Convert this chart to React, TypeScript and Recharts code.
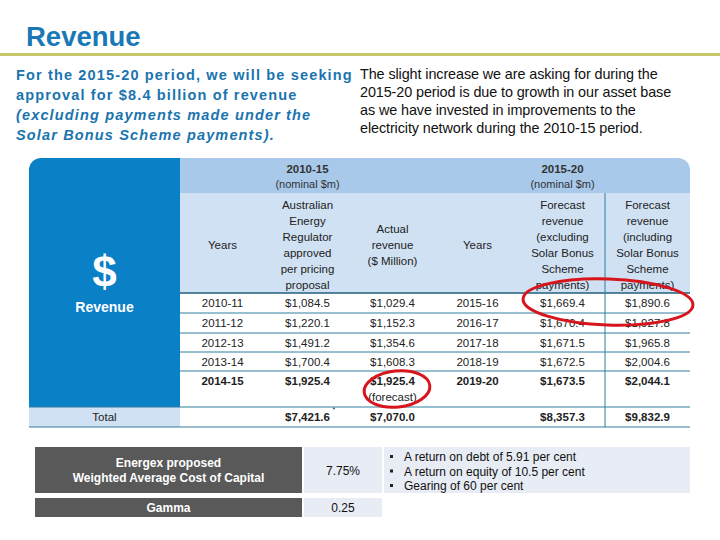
import { Surface, Layer, Rectangle, Text } from "recharts";

// 2010-15 period (nominal $m)
const years1 = ["2010-11", "2011-12", "2012-13", "2013-14", "2014-15"];
const aerApproved = [1084.5, 1220.1, 1491.2, 1700.4, 1925.4];
const actualRevenue = [1029.4, 1152.3, 1354.6, 1608.3, 1925.4];

// 2015-20 period (nominal $m)
const years2 = ["2015-16", "2016-17", "2017-18", "2018-19", "2019-20"];
const forecastExcl = [1669.4, 1670.4, 1671.5, 1672.5, 1673.5];
const forecastIncl = [1890.6, 1927.8, 1965.8, 2004.6, 2044.1];

const headers = [
  ["Years"],
  ["Australian", "Energy", "Regulator", "approved", "per pricing", "proposal"],
  ["Actual", "revenue", "($ Million)"],
  ["Years"],
  ["Forecast", "revenue", "(excluding", "Solar Bonus", "Scheme", "payments)"],
  ["Forecast", "revenue", "(including", "Solar Bonus", "Scheme", "payments)"],
];

const leftPara = [
  "For the 2015-20 period, we will be seeking",
  "approval for $8.4 billion of revenue",
  "(excluding payments made under the",
  "Solar Bonus Scheme payments).",
];
const rightPara = [
  "The slight increase we are asking for during the",
  "2015-20 period is due to growth in our asset base",
  "as we have invested in improvements to the",
  "electricity network during the 2010-15 period.",
];
const waccBullets = [
  "A return on debt of 5.91 per cent",
  "A return on equity of 10.5 per cent",
  "Gearing of 60 per cent",
];

const FONT = "'Liberation Sans', Arial, sans-serif";
const BLUE = "#0a80c6";
const LINE = "#2f7f9e";

const colX = [180, 265, 350, 435, 520, 605, 690];
const rowY = [293, 313, 333, 352, 371, 407];
const totalBottom = 427;

const sum = (a: number[]) => a.reduce((s, v) => s + v, 0);
const money = (v: number) =>
  "$" + v.toLocaleString("en-US", { minimumFractionDigits: 1, maximumFractionDigits: 1 });

const cx = (i: number) => (colX[i] + colX[i + 1]) / 2;

function Cell({ x, y, text, bold }: { x: number; y: number; text: string; bold?: boolean }) {
  return (
    <Text x={x} y={y} textAnchor="middle" verticalAnchor="middle" fontSize={11.5} fontFamily={FONT} fill="#222" fontWeight={bold ? 700 : 400}>
      {text}
    </Text>
  );
}

export default function App() {
  const cols = [years1, aerApproved.map(money), actualRevenue.map(money), years2, forecastExcl.map(money), forecastIncl.map(money)];
  const totals = ["", money(sum(aerApproved)), money(sum(actualRevenue)), "", money(sum(forecastExcl)), money(sum(forecastIncl))];

  return (
    <div style={{ position: "absolute", left: 0, top: 0, width: 720, height: 540, background: "#fff" }}>
      <Surface width={720} height={540}>
        {/* title */}
        <text x={26} y={46} fontFamily={FONT} fontSize={27.5} fontWeight={700} fill="#1b78b6">Revenue</text>
        <rect x={0} y={53} width={720} height={3} fill="#c6c86a" />

        <Layer>
          {leftPara.map((t, i) => (
            <text key={t} x={16} y={80 + i * 20} fontFamily={FONT} fontSize={14.5} fontWeight={700} letterSpacing={1.15}
              fontStyle={i >= 2 ? "italic" : "normal"} fill="#1a74ae">{t}</text>
          ))}
          {rightPara.map((t, i) => (
            <text key={t} x={360} y={79 + i * 18} fontFamily={FONT} fontSize={14.4} letterSpacing={-0.1} fill="#111">{t}</text>
          ))}
        </Layer>

        {/* table backgrounds */}
        <Rectangle x={180} y={158} width={510} height={35} fill="#a8c9ea" radius={[0, 12, 0, 0]} />
        <Rectangle x={180} y={193} width={510} height={100} fill="#d0e1f3" />
        <Rectangle x={29} y={158} width={151} height={249} fill={BLUE} radius={[12, 0, 0, 0]} />
        <Rectangle x={29} y={407} width={151} height={20} fill="#d0e1f3" />

        <text x={104.5} y={287} textAnchor="middle" fontFamily={FONT} fontSize={44} fontWeight={700} fill="#fff">$</text>
        <text x={104.5} y={312} textAnchor="middle" fontFamily={FONT} fontSize={14} fontWeight={700} fill="#fff">Revenue</text>

        {/* period headers */}
        {[["2010-15", (colX[0] + colX[3]) / 2], ["2015-20", (colX[3] + colX[6]) / 2]].map(([t, x]) => (
          <Layer key={t as string}>
            <text x={x as number} y={173} textAnchor="middle" fontFamily={FONT} fontSize={11.5} fontWeight={700} fill="#333">{t}</text>
            <text x={x as number} y={188} textAnchor="middle" fontFamily={FONT} fontSize={11} fill="#333">(nominal $m)</text>
          </Layer>
        ))}

        {/* column headers */}
        {headers.map((lines, c) => {
          const start = 245 - ((lines.length - 1) * 16) / 2;
          return lines.map((l, k) => <Cell key={c + "-" + k} x={cx(c)} y={start + k * 16} text={l} />);
        })}

        {/* rows */}
        {rowY.slice(0, -1).map((y, r) =>
          cols.map((col, c) => (
            <Cell key={r + "-" + c} x={cx(c)} y={y + 10} text={String(col[r])} bold={r === 4} />
          ))
        )}
        <Cell x={cx(2)} y={397} text="(forecast)" />

        <Cell x={104.5} y={417} text="Total" />
        {totals.map((t, c) => (t ? <Cell key={"t" + c} x={cx(c)} y={417} text={t} bold /> : null))}
        <text x={cx(1) + 25} y={412} fontFamily={FONT} fontSize={7} fill="#222">*</text>

        {/* grid lines */}
        <line x1={180} x2={690} y1={293} y2={293} stroke="#1f5f7a" strokeWidth={1.5} />
        {rowY.slice(1, -1).map((y) => (
          <line key={y} x1={180} x2={690} y1={y} y2={y} stroke={LINE} strokeWidth={1} />
        ))}
        <line x1={29} x2={690} y1={407} y2={407} stroke={LINE} strokeWidth={1} />
        <line x1={29} x2={690} y1={totalBottom} y2={totalBottom} stroke={LINE} strokeWidth={1} />
        <line x1={605} x2={605} y1={193} y2={totalBottom} stroke={LINE} strokeWidth={1} />

        {/* highlights */}
        <ellipse cx={608} cy={302} rx={85} ry={23} fill="none" stroke="#d8141c" strokeWidth={3} transform="rotate(2 608 302)" />
        <ellipse cx={397} cy={389} rx={33} ry={18} fill="none" stroke="#d8141c" strokeWidth={3} transform="rotate(-6 397 389)" />

        {/* WACC boxes */}
        <rect x={35} y={447} width={267} height={46} fill="#595959" />
        <text x={168.5} y={467} textAnchor="middle" fontFamily={FONT} fontSize={12} fontWeight={700} fill="#fff">Energex proposed</text>
        <text x={168.5} y={482} textAnchor="middle" fontFamily={FONT} fontSize={12} fontWeight={700} fill="#fff">Weighted Average Cost of Capital</text>
        <rect x={304} y={447} width={78} height={46} fill="#e8ecf4" />
        <text x={343} y={475} textAnchor="middle" fontFamily={FONT} fontSize={12} fill="#111">7.75%</text>
        <rect x={384} y={447} width={306} height={46} fill="#e8ecf4" />
        {waccBullets.map((t, i) => (
          <Layer key={t}>
            <rect x={390} y={455 + i * 14.5} width={3} height={3} fill="#222" />
            <text x={404} y={461 + i * 14.5} fontFamily={FONT} fontSize={12} fill="#111">{t}</text>
          </Layer>
        ))}
        <rect x={35} y={498} width={267} height={19} fill="#595959" />
        <text x={168.5} y={512} textAnchor="middle" fontFamily={FONT} fontSize={12} fontWeight={700} fill="#fff">Gamma</text>
        <rect x={304} y={498} width={78} height={19} fill="#e8ecf4" />
        <text x={343} y={512} textAnchor="middle" fontFamily={FONT} fontSize={12} fill="#111">0.25</text>
      </Surface>
    </div>
  );
}
